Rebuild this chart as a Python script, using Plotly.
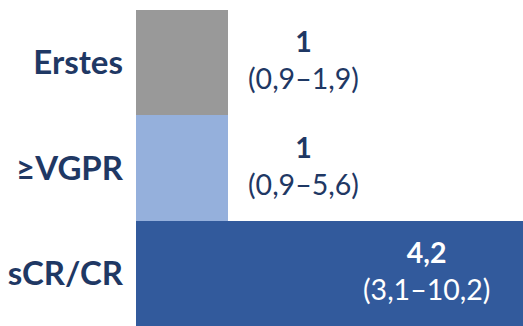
import plotly.graph_objects as go

categories = ["Erstes", "≥VGPR", "sCR/CR"]
values = [1.0, 1.0, 4.2]
value_labels = ["1", "1", "4,2"]
ci_labels = ["(0,9–1,9)", "(0,9–5,6)", "(3,1–10,2)"]
colors = ["#999999", "#95b0dc", "#325a9c"]
text_colors = ["#1f3864", "#1f3864", "#ffffff"]

fig = go.Figure(go.Bar(
    y=categories, x=values, orientation="h",
    marker=dict(color=colors, line=dict(width=0)),
    hoverinfo="skip",
))

annotations = []
for cat, v, vl, ci, tc in zip(categories, values, value_labels, ci_labels, text_colors):
    xpos = v + 0.82 if v < 2 else v * 0.75
    annotations.append(dict(
        x=xpos, y=cat, xref="x", yref="y",
        text=f"<b>{vl}</b><br>{ci}", showarrow=False,
        font=dict(family="Lato", size=28.5, color=tc),
        align="center", xanchor="center", yanchor="middle", yshift=3,
    ))

fig.update_layout(
    width=523, height=326,
    margin=dict(l=136, r=0, t=10, b=0),
    paper_bgcolor="white", plot_bgcolor="white",
    bargap=0, showlegend=False,
    annotations=annotations,
    xaxis=dict(range=[0, 4.2], visible=False, fixedrange=True),
    yaxis=dict(
        categoryorder="array", categoryarray=categories[::-1],
        showgrid=False, zeroline=False, showline=False, ticks="",
        ticklabelstandoff=12,
        tickfont=dict(family="Lato", size=33, color="#1f3864", weight="bold"),
    ),
)

fig.write_html("out.html")
